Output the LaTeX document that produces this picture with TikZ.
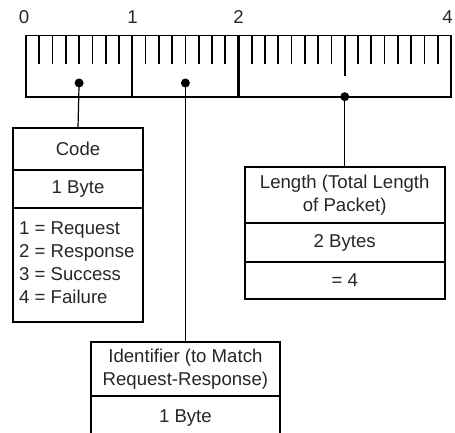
\documentclass[tikz,border=0pt]{standalone}
\usepackage{fontspec}
\setmainfont{Liberation Sans}
\begin{document}
\begin{tikzpicture}[x=1pt,y=-1pt,
  every node/.style={font=\fontsize{18.6}{22.8}\selectfont, text=black!85, inner sep=0pt},
  cell/.style={draw, line width=1.8pt, rectangle, anchor=center},
  frame/.style={draw, line width=1.8pt},
  tick/.style={line width=1.7pt},
  conn/.style={line width=1.2pt},
  dot/.style={circle, fill=black, minimum size=9pt, inner sep=0pt},
  lbl/.style={anchor=center}]
\clip (0,0) rectangle (455,433);
\useasboundingbox (0,0) rectangle (455,433);
% ruler
\draw[frame] (26,35.5) rectangle (451,96.7);
\foreach \b in {1,2} \draw[line width=2.2pt] ({26+106.25*\b},35.5) -- ({26+106.25*\b},96.7);
\foreach \i in {1,...,31} {
  \pgfmathtruncatemacro{\m}{mod(\i,8)}
  \ifnum\m=0\else \draw[tick] ({26+106.25*\i/8},35.5) -- ({26+106.25*\i/8},64.5);\fi
}
\draw[line width=2.2pt] (344.75,35.5) -- (344.75,76);
\node[lbl] (l0) at (24,17) {0};
\node[lbl] (l1) at (132.5,17) {1};
\node[lbl] (l2) at (238.5,17) {2};
\node[lbl] (l4) at (447.5,17) {4};
% dots
\node[dot] (dc) at (79.1,83) {};
\node[dot] (di) at (185.4,83) {};
\node[dot] (dl) at (344.75,96.7) {};
% Code box
\node[cell, minimum width=130, minimum height=42] (c1) at (78,149) {Code};
\node[cell, minimum width=130, minimum height=38] (c2) at (78,189) {1 Byte};
\node[cell, minimum width=130, minimum height=114] (c3) at (78,265) {};
\node[anchor=west, align=left] (clist) at (19,262.5) {1 = Request\\2 = Response\\3 = Success\\4 = Failure};
% Length box
\node[cell, minimum width=200, minimum height=56, align=center] (n1) at (344.75,195) {Length (Total Length\\of Packet)};
\node[cell, minimum width=200, minimum height=39] (n2) at (344.75,242.5) {2 Bytes};
\node[cell, minimum width=200, minimum height=37] (n3) at (344.75,280.5) {= 4};
% Identifier box
\node[cell, minimum width=189, minimum height=54, align=center] (i1) at (185.4,369) {Identifier (to Match\\Request-Response)};
\node[cell, minimum width=189, minimum height=44] (i2) at (185.4,418) {1 Byte};
% connectors
\draw[conn] (dc.center) -- (c1.north);
\draw[conn] (di.center) -- (i1.north);
\draw[conn] (dl.center) -- (n1.north);
\end{tikzpicture}
\end{document}
